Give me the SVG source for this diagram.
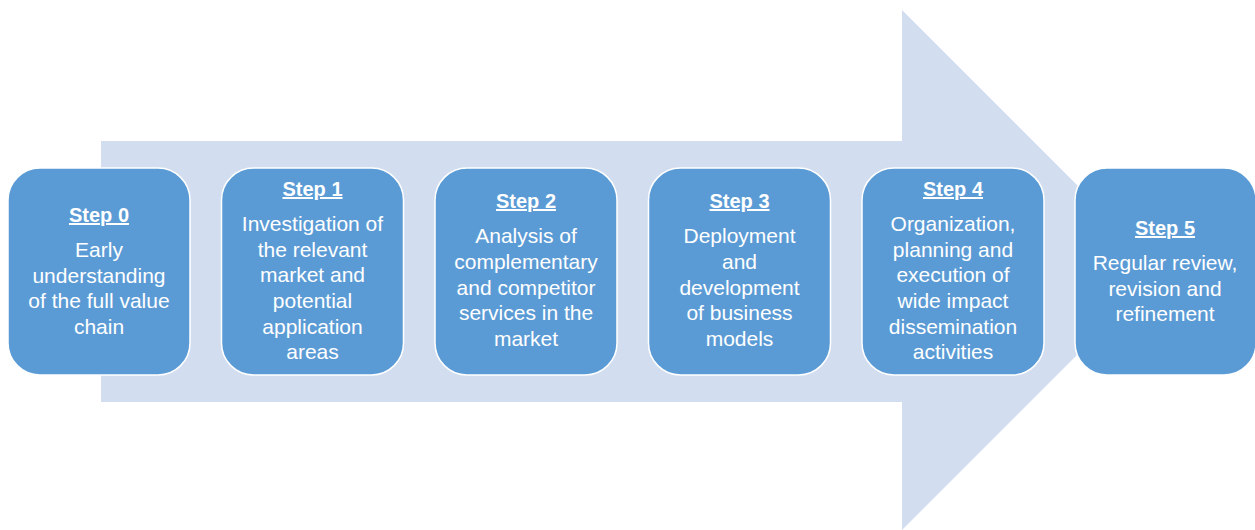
<svg xmlns="http://www.w3.org/2000/svg" width="1255" height="530" viewBox="0 0 1255 530">
<style>
.box{fill:#5b9bd5;stroke:#ffffff;stroke-width:1.5}
.t{font-family:"Liberation Sans",Arial,sans-serif;fill:#ffffff;text-anchor:middle}
.h{font-size:20px;font-weight:bold;text-decoration:underline}
.b{font-size:21px}
</style>
<rect width="1255" height="530" fill="#ffffff"/>
<g id="arrow">
<polygon points="101,141 902,141 902,10 1162,270 902,530 902,402 101,402" fill="#d2deef"/>
</g>
<g id="connectors"></g>
<g id="step0">
<rect class="box" x="8" y="168" width="182" height="207" rx="32"/>
<text class="t h" x="99" y="222">Step 0</text>
<text class="t b" x="99" y="257">Early</text>
<text class="t b" x="99" y="283">understanding</text>
<text class="t b" x="99" y="308">of the full value</text>
<text class="t b" x="99" y="334">chain</text>
</g>
<g id="step1">
<rect class="box" x="221.5" y="168" width="182" height="207" rx="32"/>
<text class="t h" x="312.5" y="196">Step 1</text>
<text class="t b" x="312.5" y="231">Investigation of</text>
<text class="t b" x="312.5" y="257">the relevant</text>
<text class="t b" x="312.5" y="282">market and</text>
<text class="t b" x="312.5" y="308">potential</text>
<text class="t b" x="312.5" y="334">application</text>
<text class="t b" x="312.5" y="359">areas</text>
</g>
<g id="step2">
<rect class="box" x="435" y="168" width="182" height="207" rx="32"/>
<text class="t h" x="526" y="208">Step 2</text>
<text class="t b" x="526" y="243">Analysis of</text>
<text class="t b" x="526" y="269">complementary</text>
<text class="t b" x="526" y="295">and competitor</text>
<text class="t b" x="526" y="320">services in the</text>
<text class="t b" x="526" y="346">market</text>
</g>
<g id="step3">
<rect class="box" x="648.5" y="168" width="182" height="207" rx="32"/>
<text class="t h" x="739.5" y="208">Step 3</text>
<text class="t b" x="739.5" y="243">Deployment</text>
<text class="t b" x="739.5" y="269">and</text>
<text class="t b" x="739.5" y="295">development</text>
<text class="t b" x="739.5" y="320">of business</text>
<text class="t b" x="739.5" y="346">models</text>
</g>
<g id="step4">
<rect class="box" x="862" y="168" width="182" height="207" rx="32"/>
<text class="t h" x="953" y="196">Step 4</text>
<text class="t b" x="953" y="231">Organization,</text>
<text class="t b" x="953" y="257">planning and</text>
<text class="t b" x="953" y="282">execution of</text>
<text class="t b" x="953" y="308">wide impact</text>
<text class="t b" x="953" y="334">dissemination</text>
<text class="t b" x="953" y="359">activities</text>
</g>
<g id="step5">
<rect class="box" x="1075" y="168" width="181" height="207" rx="32"/>
<text class="t h" x="1165" y="235">Step 5</text>
<text class="t b" x="1165" y="270">Regular review,</text>
<text class="t b" x="1165" y="296">revision and</text>
<text class="t b" x="1165" y="321">refinement</text>
</g>
</svg>
